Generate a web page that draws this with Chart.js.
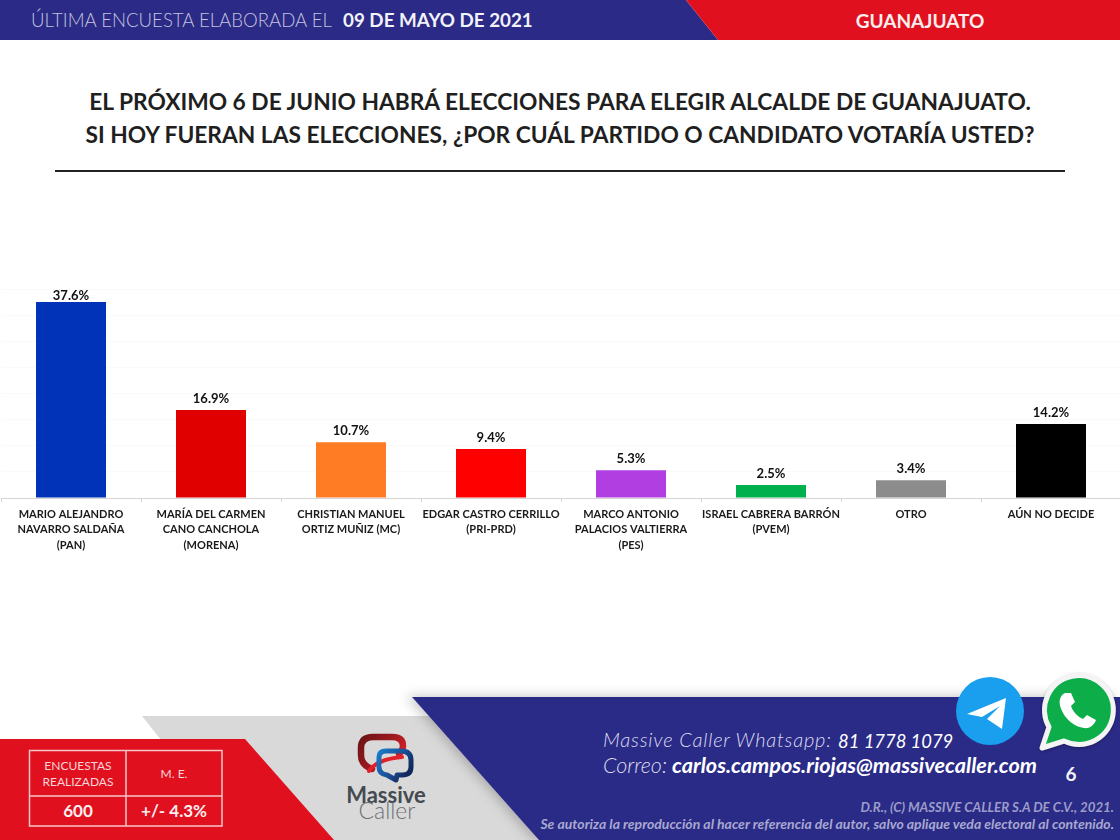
<!DOCTYPE html>
<html lang="es">
<head>
<meta charset="utf-8">
<title>Guanajuato</title>
<script src="https://cdn.jsdelivr.net/npm/chart.js@4"></script>
<style>
  html, body { margin: 0; padding: 0; background: #fff; }
  #page { position: relative; width: 1120px; height: 840px; overflow: hidden; font-family: Lato, sans-serif; }
  #page svg { position: absolute; left: 0; top: 0; }
  #chartBox { position: absolute; left: 1px; top: 280px; width: 1120px; height: 290px; }
  text { font-family: Lato, sans-serif; }
</style>
</head>
<body>
<div id="page">
  <svg width="1120" height="840" viewBox="0 0 1120 840">
    <defs>
      <filter id="soft" x="-20%" y="-20%" width="140%" height="140%">
        <feDropShadow dx="-6" dy="-1" stdDeviation="6" flood-color="#000" flood-opacity="0.22"/>
      </filter>
      <filter id="softIcon" x="-20%" y="-20%" width="140%" height="140%">
        <feDropShadow dx="0" dy="1" stdDeviation="1.5" flood-color="#000" flood-opacity="0.35"/>
      </filter>
      <linearGradient id="logoRed" x1="0" y1="0" x2="1" y2="0.6">
        <stop offset="0" stop-color="#6d1416"/><stop offset="0.6" stop-color="#a01a20"/><stop offset="1" stop-color="#e0202a"/>
      </linearGradient>
      <linearGradient id="logoBlue" x1="0" y1="0" x2="1" y2="0.6">
        <stop offset="0" stop-color="#1a7ac8"/><stop offset="0.6" stop-color="#1a4f96"/><stop offset="1" stop-color="#12285a"/>
      </linearGradient>
    </defs>

    <!-- header -->
    <polygon points="0,0 686,0 718,40 0,40" fill="#2b2a87"/>
    <polygon points="686,0 1120,0 1120,40 718,40" fill="#e1101f"/>
    <text x="31" y="27" font-size="18.6" font-weight="300" fill="#c3c4df">ÚLTIMA ENCUESTA ELABORADA EL</text>
    <text x="343" y="27" font-size="18.8" font-weight="700" fill="#f2f2f8">09 DE MAYO DE 2021</text>
    <text x="920" y="28" font-size="19" font-weight="700" fill="#fbeeee" text-anchor="middle">GUANAJUATO</text>

    <!-- question -->
    <text x="560" y="110" font-size="22.75" font-weight="700" fill="#1f1f1f" text-anchor="middle">EL PRÓXIMO 6 DE JUNIO HABRÁ ELECCIONES PARA ELEGIR ALCALDE DE GUANAJUATO.</text>
    <text x="560" y="143" font-size="22.75" font-weight="700" fill="#1f1f1f" text-anchor="middle">SI HOY FUERAN LAS ELECCIONES, ¿POR CUÁL PARTIDO O CANDIDATO VOTARÍA USTED?</text>
    <rect x="55" y="170" width="1010" height="2" fill="#222"/>

    <!-- footer shapes -->
    <polygon points="142,716 460,716 560,840 240,840" fill="#d9d9d9"/>
    <polygon points="0,739 245,739 334,840 0,840" fill="#e1101f"/>
    <polygon points="412,697 1120,697 1120,840 539,840" fill="#2b2a87" filter="url(#soft)"/>

    <!-- survey table -->
    <g fill="none" stroke="#f3c6ca" stroke-width="1.5">
      <rect x="29.5" y="750.5" width="192.5" height="75.5"/>
      <line x1="126" y1="750" x2="126" y2="826"/>
      <line x1="29" y1="796" x2="222" y2="796"/>
    </g>
    <g text-anchor="middle" fill="#f6d5d8" font-size="12">
      <text x="78" y="770">ENCUESTAS</text>
      <text x="78" y="786">REALIZADAS</text>
      <text x="174" y="778">M. E.</text>
    </g>
    <g text-anchor="middle" fill="#fbeeee" font-size="17" font-weight="700">
      <text x="78" y="817">600</text>
      <text x="174" y="817">+/- 4.3%</text>
    </g>

    <!-- logo -->
    <g fill="none" stroke-linecap="round" stroke-linejoin="round">
      <path d="M372 769 q-11 -4 -11 -14 v-7 q0 -11 12 -11 h19 q11 0 11 9 q0 5 -4 8" stroke="url(#logoRed)" stroke-width="6.5"/>
      <path d="M369 771 q8 -12 33 -14" stroke="#e0202a" stroke-width="4"/>
      <path d="M379 764 v-7 q0 -6 7 -6 h15 q10 0 10 9 v7 q0 8 -9 8 h-5 l-1 5 l-9 -5 q-8 -1 -8 -8" stroke="url(#logoBlue)" stroke-width="5"/>
    </g>
    <text x="386" y="803" font-size="22" font-weight="700" fill="#454a50" text-anchor="middle">Massive</text>
    <text x="387" y="819" font-size="23" font-weight="300" fill="#6e7074" text-anchor="middle">Caller</text>

    <!-- contact -->
    <text x="603" y="747" font-size="20" font-style="italic" font-weight="300" fill="#dcdcee" letter-spacing="0.78">Massive Caller Whatsapp:</text>
    <text x="838" y="748" font-size="18.4" font-style="italic" font-weight="400" fill="#fff">81 1778 1079</text>
    <text x="603" y="773" font-size="21.5" font-style="italic" font-weight="300" fill="#dcdcee">Correo:</text>
    <text x="672" y="773" font-size="21.7" font-style="italic" font-weight="700" fill="#fff">carlos.campos.riojas@massivecaller.com</text>
    <text x="1071" y="781" font-size="19" font-weight="700" fill="#f2f2f8" text-anchor="middle">6</text>
    <text x="1114" y="812" font-size="13.3" font-style="italic" font-weight="700" fill="#9c9cc9" text-anchor="end">D.R., (C) MASSIVE CALLER S.A DE C.V., 2021.</text>
    <text x="1114" y="829" font-size="14" font-style="italic" font-weight="700" fill="#a8a8d0" text-anchor="end">Se autoriza la reproducción al hacer referencia del autor, salvo aplique veda electoral al contenido.</text>

    <!-- telegram -->
    <circle cx="990" cy="711" r="34" fill="#1a9fef"/>
    <path d="M967 714 L1006 698 L1002 729 L987 719 L1000 706 L982 717z" fill="#fff"/>

    <!-- whatsapp -->
    <path d="M1042 748 L1049 727 A34.4 34.4 0 1 1 1064 741 Z" fill="#0aad4a" stroke="#f4f4f4" stroke-width="5" stroke-linejoin="round" filter="url(#softIcon)"/>
    <path d="M1065 693 c-6 3 -7 10 -3 18 c4 9 13 16 22 17 c6 1 10 -3 12 -8 l-9 -5 l-4 4 c-5 -2 -10 -7 -12 -13 l4 -4 l-4 -9z" fill="#fff"/>
  </svg>

  <div id="chartBox"><canvas id="myChart"></canvas></div>
</div>

<script>
const categories = [
  ['MARIO ALEJANDRO', 'NAVARRO SALDAÑA', '(PAN)'],
  ['MARÍA DEL CARMEN', 'CANO CANCHOLA', '(MORENA)'],
  ['CHRISTIAN MANUEL', 'ORTIZ MUÑIZ (MC)'],
  ['EDGAR CASTRO CERRILLO', '(PRI-PRD)'],
  ['MARCO ANTONIO', 'PALACIOS VALTIERRA', '(PES)'],
  ['ISRAEL CABRERA BARRÓN', '(PVEM)'],
  ['OTRO'],
  ['AÚN NO DECIDE'],
];
const votes = [37.6, 16.9, 10.7, 9.4, 5.3, 2.5, 3.4, 14.2];
const barColors = ['#0033b8', '#e00000', '#ff7c25', '#ff0000', '#b13ee0', '#00b04f', '#8c8c8c', '#000000'];

// labels above the bars, the tallest one gets pushed down against the top of the plot
const valueLabels = {
  id: 'valueLabels',
  afterDatasetsDraw(chart) {
    const ctx = chart.ctx;
    ctx.save();
    ctx.font = '700 13px Lato, sans-serif';
    ctx.fillStyle = '#111';
    ctx.textAlign = 'center';
    ctx.textBaseline = 'middle';
    chart.getDatasetMeta(0).data.forEach((bar, i) => {
      ctx.fillText(votes[i].toFixed(1) + '%', bar.x, Math.max(16, bar.y - 11.5));
    });
    ctx.restore();
  },
};

new Chart(document.getElementById('myChart'), {
  type: 'bar',
  data: {
    labels: categories,
    datasets: [{
      data: votes,
      backgroundColor: barColors,
      barPercentage: 0.5,
      categoryPercentage: 1,
    }],
  },
  options: {
    responsive: true,
    maintainAspectRatio: false,
    animation: false,
    layout: { padding: { top: 9.5, left: 0, right: 0, bottom: 0 } },
    plugins: { legend: { display: false }, tooltip: { enabled: false } },
    scales: {
      x: {
        afterFit(scale) { scale.height = 72; },
        border: { color: '#d4d4d4' },
        grid: { drawOnChartArea: false, color: '#d4d4d4', tickLength: 4 },
        ticks: {
          autoSkip: false,
          maxRotation: 0,
          padding: 4,
          color: '#1a1a1a',
          font: { family: 'Lato, sans-serif', size: 11, weight: '700', lineHeight: 1.45 },
        },
      },
      y: {
        min: 0,
        max: 40,
        afterFit(scale) { scale.width = 0; },
        border: { display: false },
        grid: { color: '#fafafa' },
        ticks: { display: false, stepSize: 5 },
      },
    },
  },
  plugins: [valueLabels],
});
</script>
</body>
</html>
